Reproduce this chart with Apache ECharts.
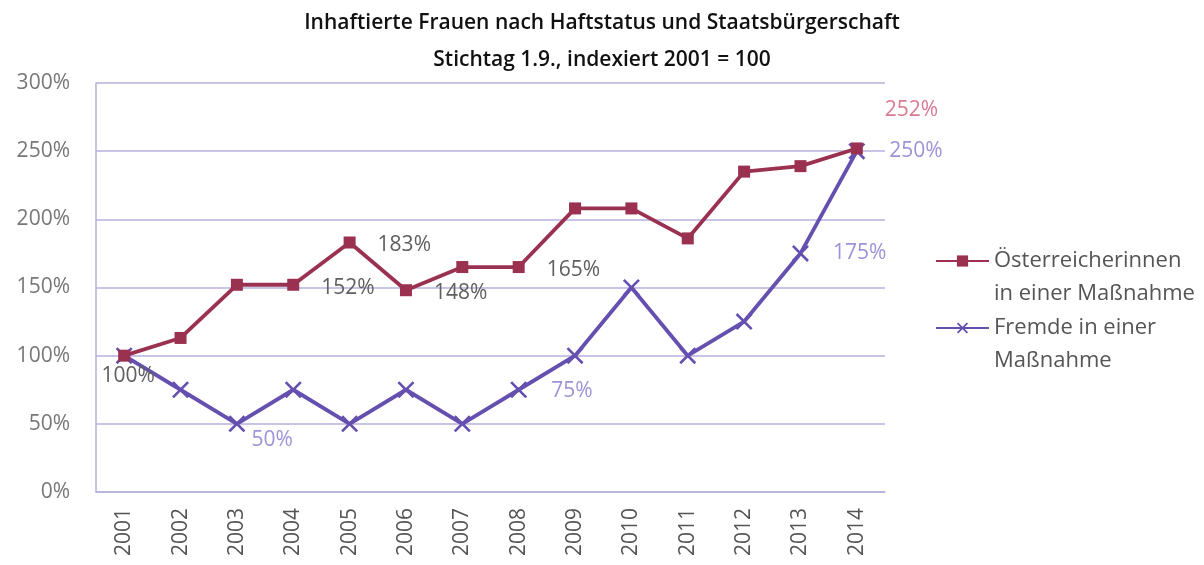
<!DOCTYPE html>
<html>
<head>
<meta charset="utf-8">
<script src="https://cdn.jsdelivr.net/npm/echarts@6/dist/echarts.min.js"></script>
<style>html,body{margin:0;padding:0;background:#fff}#c{width:1204px;height:565px}</style>
</head>
<body>
<div id="c"></div>
<script>
const titleText = 'Inhaftierte Frauen nach Haftstatus und Staatsbürgerschaft';
const subtitleText = 'Stichtag 1.9., indexiert 2001 = 100';
const years = ['2001','2002','2003','2004','2005','2006','2007','2008','2009','2010','2011','2012','2013','2014'];
const seriesNames = ['Österreicherinnen in einer Maßnahme', 'Fremde in einer Maßnahme'];
const legendLines = [['Österreicherinnen', 'in einer Maßnahme'], ['Fremde in einer', 'Maßnahme']];
const austrianValues = [100, 113, 152, 152, 183, 148, 165, 165, 208, 208, 186, 235, 239, 252];
const foreignValues = [100, 75, 50, 75, 50, 75, 50, 75, 100, 150, 100, 125, 175, 250];
const yTicks = [0, 50, 100, 150, 200, 250, 300];

const FONT = 'Open Sans';
const RED = '#9a3150';
const BLUE = '#6550b0';
const GRID = '#b4b0dc';
const LBL = 21;

// label styles per labelled point (index -> style)
const redLabelCfg = {
  0: {position: 'bottom', distance: 4, offset: [4, 0], color: '#5f5f5f'},
  3: {position: 'right', distance: 22, offset: [0, 3], color: '#5f5f5f'},
  4: {position: 'right', distance: 22, offset: [0, 3], color: '#5f5f5f'},
  5: {position: 'right', distance: 22, offset: [0, 3], color: '#5f5f5f'},
  7: {position: 'right', distance: 22, offset: [0, 3], color: '#5f5f5f'},
  13: {position: 'right', distance: 22, offset: [0, -38], color: '#d97a93'}
};
const blueLabelCfg = {
  2: {position: 'right', distance: 6, offset: [0, 16], color: '#9c93d8'},
  7: {position: 'right', distance: 24, offset: [0, 1], color: '#9c93d8'},
  12: {position: 'right', distance: 24, offset: [0, 0], color: '#9c93d8'},
  13: {position: 'right', distance: 24, offset: [0, 0], color: '#9c93d8'}
};

function buildData(values, cfg) {
  return values.map((v, i) => {
    const c = cfg[i];
    if (!c) return {value: v, label: {show: false}};
    return {value: v, label: {show: true, position: c.position, distance: c.distance, offset: c.offset,
      color: c.color, fontFamily: FONT, fontSize: LBL, formatter: p => p.value + '%'}};
  });
}

const xPath = 'path://M0,1.1L1.1,0L10,8.9L8.9,10Z M8.9,0L10,1.1L1.1,10L0,8.9Z';

const chart = echarts.init(document.getElementById('c'), null, {renderer: 'canvas'});
chart.setOption({
  animation: false,
  backgroundColor: '#fff',
  title: [
    {text: titleText, left: 'center', top: 4,
     textStyle: {fontFamily: FONT, fontSize: 21, fontWeight: 600, color: '#111', lineHeight: 28}},
    {text: subtitleText, left: 'center', top: 41,
     textStyle: {fontFamily: FONT, fontSize: 21, fontWeight: 600, color: '#111', lineHeight: 28}}
  ],
  grid: {left: 96, right: 319, top: 83, bottom: 73, containLabel: false},
  legend: {
    orient: 'vertical', left: 930, top: 212,
    itemWidth: 53, itemHeight: 14, itemGap: -21,
    data: seriesNames,
    formatter: name => {
      const l = legendLines[seriesNames.indexOf(name)];
      return '{e| }\n{a|' + l[0] + '}\n{a|' + l[1] + '}';
    },
    textStyle: {fontFamily: FONT, fontSize: 22, color: '#555',
      rich: {e: {fontSize: 22, lineHeight: 33}, a: {fontFamily: FONT, fontSize: 22, lineHeight: 33, color: '#555'}}}
  },
  xAxis: {
    type: 'category', data: years, boundaryGap: true,
    axisLine: {show: true, lineStyle: {color: GRID, width: 1.5}},
    axisTick: {show: false},
    axisLabel: {rotate: 90, color: '#555', fontFamily: FONT, fontSize: 21, margin: 16}
  },
  yAxis: {
    type: 'value', min: yTicks[0], max: yTicks[yTicks.length - 1], interval: 50,
    axisLine: {show: true, lineStyle: {color: GRID, width: 1.5}},
    axisTick: {show: false},
    splitLine: {lineStyle: {color: GRID, width: 1.5}},
    axisLabel: {color: '#777', fontFamily: FONT, fontSize: 21, margin: 26, formatter: v => v + '%'}
  },
  series: [
    {
      name: seriesNames[0], type: 'line', data: buildData(austrianValues, redLabelCfg),
      symbol: 'rect', symbolSize: 12, z: 3,
      lineStyle: {color: RED, width: 3.8}, itemStyle: {color: RED}
    },
    {
      name: seriesNames[1], type: 'line', data: buildData(foreignValues, blueLabelCfg),
      symbol: xPath, symbolSize: 17, z: 2,
      lineStyle: {color: BLUE, width: 3.8}, itemStyle: {color: BLUE}
    }
  ]
});
</script>
</body>
</html>
